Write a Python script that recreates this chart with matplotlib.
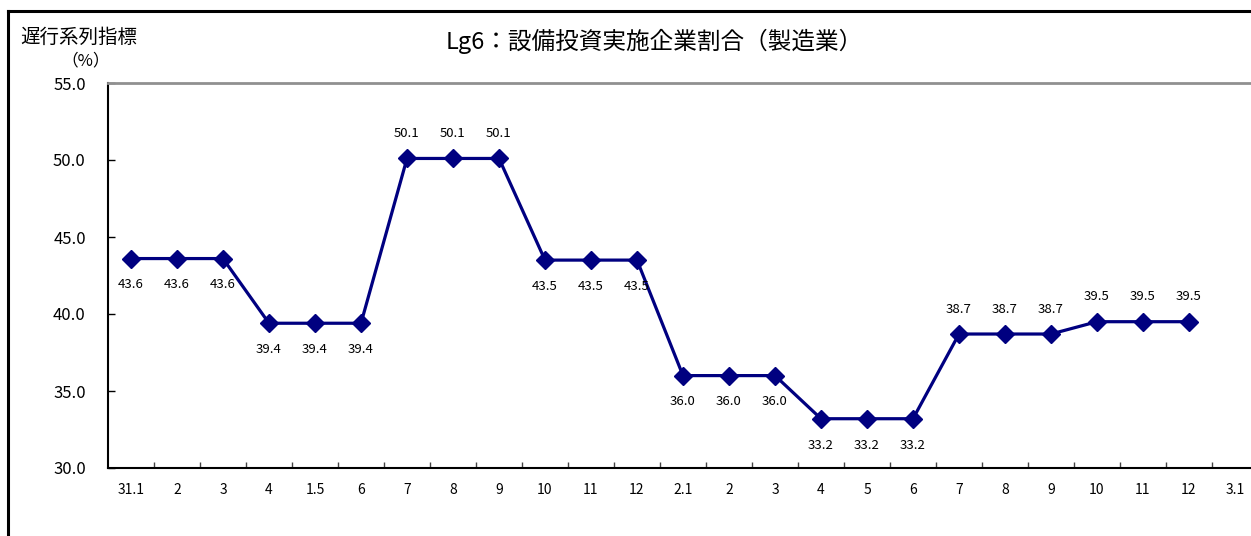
import matplotlib
matplotlib.use("Agg")
import matplotlib.pyplot as plt
from matplotlib.lines import Line2D

plt.rcParams["font.family"] = ["Noto Sans CJK JP", "DejaVu Sans"]

TITLE = "Lg6：設備投資実施企業割合（製造業）"
YLAB1 = "遅行系列指標"
YLAB2 = "（%）"
xlabels = ["31.1", "2", "3", "4", "1.5", "6", "7", "8", "9", "10", "11", "12",
           "2.1", "2", "3", "4", "5", "6", "7", "8", "9", "10", "11", "12", "3.1"]
values = [43.6, 43.6, 43.6, 39.4, 39.4, 39.4, 50.1, 50.1, 50.1, 43.5, 43.5, 43.5,
          36.0, 36.0, 36.0, 33.2, 33.2, 33.2, 38.7, 38.7, 38.7, 39.5, 39.5, 39.5]
# label placement relative to the point
side = ["below"] * 6 + ["above"] * 3 + ["below"] * 9 + ["above"] * 6

NAVY = "#000080"
W, H = 1251, 536
fig = plt.figure(figsize=(W / 100, H / 100), dpi=100)
ax = fig.add_axes([108 / W, 68 / H, 1150 / W, 385 / H])

xs = list(range(len(values)))
ax.plot(xs, values, color=NAVY, lw=2.3, marker="D", ms=9, mfc=NAVY, mec=NAVY, clip_on=False)
for x, v, s in zip(xs, values, side):
    dy = 18 if s == "above" else -19
    ax.annotate(f"{v:.1f}", (x, v), xytext=(0, dy), textcoords="offset points",
                ha="center", va="center", fontsize=9.5, color="black")

ax.set_xlim(-0.5, len(xlabels) - 0.5)
ax.set_ylim(30, 55)
ax.set_yticks(range(30, 56, 5))
ax.set_yticklabels([f"{v:.1f}" for v in range(30, 56, 5)], fontsize=12)
ax.tick_params(axis="y", direction="in", length=5, width=1, pad=16)

ax.set_xticks(range(len(xlabels)))
ax.set_xticklabels(xlabels, fontsize=10)
ax.tick_params(axis="x", which="major", length=0, pad=11)
ax.set_xticks([i + 0.5 for i in range(len(xlabels) - 1)], minor=True)
ax.tick_params(axis="x", which="minor", direction="in", length=4, width=1, color="#444444")

ax.spines["top"].set_color("#909090")
ax.spines["top"].set_linewidth(2)
ax.spines["left"].set_linewidth(1.5)
ax.spines["bottom"].set_linewidth(1.5)
ax.spines["right"].set_visible(False)

fig.text(654 / W, 1 - 41 / H, TITLE, ha="center", va="center", fontsize=17)
fig.text(79 / W, 1 - 37 / H, YLAB1, ha="center", va="center", fontsize=14)
fig.text(86 / W, 1 - 61 / H, YLAB2, ha="center", va="center", fontsize=12)

# outer frame (left and top edges visible)
fx, fy = 7.5 / W, 1 - 11 / H
fig.add_artist(Line2D([fx, fx], [0, fy], color="black", lw=2.2, transform=fig.transFigure))
fig.add_artist(Line2D([fx, 1], [fy, fy], color="black", lw=2.2, transform=fig.transFigure))

fig.savefig("out.png", dpi=100)
